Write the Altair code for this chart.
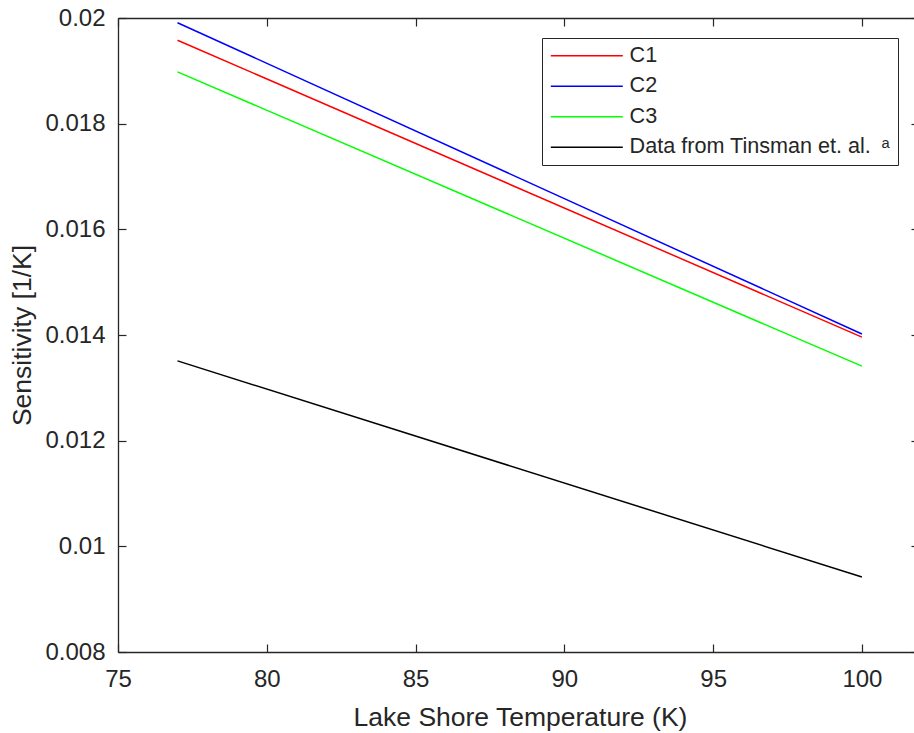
import altair as alt
import pandas as pd

# ---- data ----
temps = [77, 100]
c1 = [0.01958, 0.01396]
c2 = [0.01991, 0.01402]
c3 = [0.01898, 0.01341]
tinsman = [0.01351, 0.00942]
series_names = ["C1", "C2", "C3", "Data from Tinsman et. al.\u2002\u1d43"]
series_colors = ["#ff0000", "#0000ff", "#00ff00", "#000000"]
x_ticks = [75, 80, 85, 90, 95, 100]
y_ticks = [0.008, 0.01, 0.012, 0.014, 0.016, 0.018, 0.02]

rows = []
for name, vals in zip(series_names, [c1, c2, c3, tinsman]):
    for t, v in zip(temps, vals):
        rows.append({"temp": t, "value": v, "series": name})
df = pd.DataFrame(rows)

FONT = "Liberation Sans"
INK = "#262626"
x_scale = alt.Scale(domain=[75, 101.75], nice=False, zero=False)
y_scale = alt.Scale(domain=[0.008, 0.02], nice=False, zero=False)

lines = alt.Chart(df).mark_line(strokeWidth=1.5, clip=True).encode(
    x=alt.X("temp:Q", scale=x_scale,
            axis=alt.Axis(orient="bottom", values=x_ticks, format="d",
                          title="Lake Shore Temperature (K)", labelFlush=False,
                          tickSize=alt.ExprRef(expr="-8"), labelPadding=23,
                          titleX=402, titleY=73, titleBaseline="alphabetic",
                          titleAlign="center")),
    y=alt.Y("value:Q", scale=y_scale,
            axis=alt.Axis(orient="left", values=y_ticks, format="~g",
                          title="Sensitivity [1/K]", labelFlush=False,
                          tickSize=alt.ExprRef(expr="-8"), labelPadding=21,
                          titleX=-96, titleY=317, titleAngle=-90,
                          titleBaseline="middle", titleAlign="center")),
    color=alt.Color("series:N",
                    scale=alt.Scale(domain=series_names, range=series_colors),
                    legend=alt.Legend(orient="none", legendX=424, legendY=20,
                                      title=None, symbolType="M-1,0H7",
                                      symbolSize=324, symbolStrokeWidth=1.5,
                                      labelFont=FONT, labelFontSize=21.6,
                                      labelColor=INK, labelOffset=59,
                                      labelLimit=500, padding=7, rowPadding=7.5,
                                      strokeColor=INK)),
)

frame = alt.Chart(df).mark_line(opacity=0).encode(
    x=alt.X("temp:Q", scale=x_scale,
            axis=alt.Axis(orient="top", values=x_ticks, labels=False, title=None,
                          tickSize=alt.ExprRef(expr="-8"))),
    y=alt.Y("value:Q", scale=y_scale,
            axis=alt.Axis(orient="right", values=y_ticks, labels=False, title=None,
                          domain=False, tickSize=alt.ExprRef(expr="-3"))),
    detail="series:N",
)

chart = alt.layer(lines, frame).resolve_axis(
    x="independent", y="independent"
).properties(
    width=796, height=634,
    padding={"left": 118, "top": 18, "right": 0, "bottom": 79},
    autosize=alt.AutoSizeParams(type="none"),
    background="white",
).configure_view(stroke=None).configure_axis(
    grid=False, labelFont=FONT, labelFontSize=24, labelColor=INK,
    titleFont=FONT, titleFontSize=26.5, titleColor=INK, titleFontWeight="normal",
    domainColor=INK, domainWidth=1.3, tickColor=INK, tickWidth=1.2,
)

chart.save("out.html", embed_options={"renderer": "svg", "actions": False})
